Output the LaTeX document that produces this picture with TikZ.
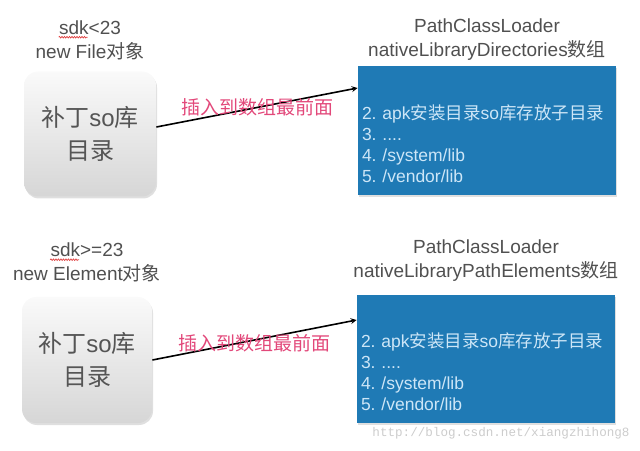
\documentclass[tikz,border=0pt]{standalone}
\usepackage{fontspec}
\setmainfont{Liberation Sans}
\setmonofont{Liberation Mono}
\newfontfamily\cjk{Noto Sans CJK SC}
\usepackage{tikz}
\usetikzlibrary{arrows,positioning,shadows,decorations.pathmorphing}
\definecolor{captiongray}{RGB}{80,80,80}
\definecolor{patchtext}{RGB}{85,85,85}
\definecolor{arrayblue}{RGB}{31,122,181}
\definecolor{arraytext}{RGB}{205,230,247}
\definecolor{insertpink}{RGB}{226,72,122}
\definecolor{spellred}{RGB}{225,70,70}

\begin{document}
\begin{tikzpicture}[x=1pt, y=1pt, >=stealth, thick]
    \tikzset{
        patchbox/.style={rectangle, rounded corners=14pt, top color=gray!4, bottom color=gray!32, draw=none, minimum width=132pt, minimum height=125pt, align=center, text=patchtext, font=\fontsize{24}{33}\selectfont, drop shadow={opacity=0.25, shadow xshift=1pt, shadow yshift=-2pt}},
        arraybox/.style={rectangle, fill=arrayblue, minimum width=258pt, minimum height=129pt, text width=250pt, inner xsep=4pt, align=left, text=arraytext, font=\fontsize{17.5}{21}\selectfont, drop shadow={opacity=0.25, shadow xshift=1pt, shadow yshift=-2pt}},
        caption/.style={align=center, inner sep=0pt, text=captiongray, font=\fontsize{19}{24}\selectfont},
        insertlabel/.style={text=insertpink, inner sep=0pt, font=\cjk\fontsize{19}{20}\selectfont},
        line/.style={draw, ->, >=stealth, line width=1.6pt},
        spellmark/.style={draw=spellred, line width=0.7pt, decorate, decoration={snake, amplitude=0.8pt, segment length=2.5pt}}
    }
    \useasboundingbox (0,0) rectangle (640,450);

    % sdk < 23
    \node [patchbox] (patchA) at (90,316) {{\cjk 补丁}so{\cjk 库}\\{\cjk 目录}};
    \node [caption, above=11pt of patchA] (fileA) {new File{\cjk 对象}};
    \node [caption, anchor=base] (sdkA) at ([yshift=24pt]fileA.base) {sdk<23};
    \draw [spellmark] ([yshift=-3pt]sdkA.base west) -- ([xshift=29pt, yshift=-3pt]sdkA.base west);
    \node [arraybox] (arrayA) at (487,319.5) {\mbox{}\\[20pt]2.\ apk{\cjk 安装目录}so{\cjk 库存放子目录}\\3.\ ....\\4.\ /system/lib\\5.\ /vendor/lib};
    \node [caption, above=5pt of arrayA] (loaderA) {PathClassLoader\\nativeLibraryDirectories{\cjk 数组}};

    % sdk >= 23
    \node [patchbox, minimum width=130pt, minimum height=126pt] (patchB) at (87,90) {{\cjk 补丁}so{\cjk 库}\\{\cjk 目录}};
    \node [caption, above=14pt of patchB] (elementB) {new Element{\cjk 对象}};
    \node [caption, anchor=base] (sdkB) at ([yshift=24pt]elementB.base) {sdk>=23};
    \draw [spellmark] ([yshift=-3pt]sdkB.base west) -- ([xshift=29pt, yshift=-3pt]sdkB.base west);
    \node [arraybox, minimum height=128pt] (arrayB) at (486,91) {\mbox{}\\[20pt]2.\ apk{\cjk 安装目录}so{\cjk 库存放子目录}\\3.\ ....\\4.\ /system/lib\\5.\ /vendor/lib};
    \node [caption, above=13pt of arrayB] (loaderB) {PathClassLoader\\nativeLibraryPathElements{\cjk 数组}};

    \path [line] ([yshift=7pt]patchA.east) -- node[insertlabel] (insertA) {插入到数组最前面} ([yshift=42.5pt]arrayA.west);
    \path [line] (patchB.east) -- node[insertlabel, yshift=-3pt] (insertB) {插入到数组最前面} ([yshift=39pt]arrayB.west);

    \node [text=gray!40, font=\ttfamily\fontsize{12.6}{14}\selectfont] (watermark) at (501,17) {http://blog.csdn.net/xiangzhihong8};
\end{tikzpicture}
\end{document}
